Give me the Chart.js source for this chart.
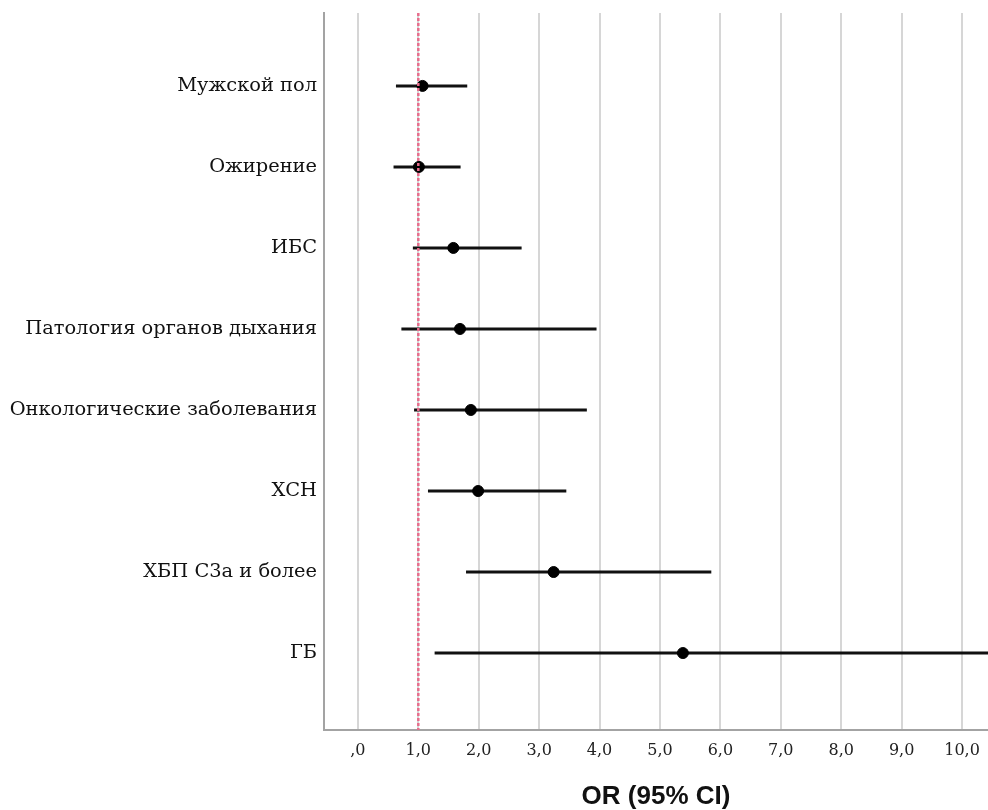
<!DOCTYPE html>
<html>
<head>
<meta charset="utf-8">
<script src="https://cdn.jsdelivr.net/npm/chart.js@4"></script>
<style>
    body { margin: 0; background: #fff; }
    #wrap { width: 988px; height: 810px; }
</style>
</head>
<body>
<div id="wrap"><canvas id="forest" width="988" height="810"></canvas></div>
<script>
// forest plot data (OR with 95% CI)
const categories = ['Мужской пол', 'Ожирение', 'ИБС', 'Патология органов дыхания',
    'Онкологические заболевания', 'ХСН', 'ХБП С3а и более', 'ГБ'];
const oddsRatio = [1.07, 1.01, 1.58, 1.69, 1.87, 1.99, 3.24, 5.38];
const ciLower = [0.63, 0.59, 0.91, 0.72, 0.93, 1.16, 1.79, 1.27];
const ciUpper = [1.81, 1.70, 2.71, 3.95, 3.79, 3.45, 5.85, 21.5];
const xTicks = [0, 1, 2, 3, 4, 5, 6, 7, 8, 9, 10];
const refValue = 1;

// build datasets from the arrays above
const points = categories.map((c, i) => ({ x: oddsRatio[i], y: i }));
const ciSegments = [];
categories.forEach((c, i) => {
    ciSegments.push({ x: ciLower[i], y: i });
    ciSegments.push({ x: ciUpper[i], y: i });
    ciSegments.push({ x: null, y: null }); // break between rows
});

const yMin = -0.9, yMax = 7.95;

const ctx = document.getElementById('forest').getContext('2d');
new Chart(ctx, {
    type: 'scatter',
    data: {
        datasets: [
            {
                // reference line OR = 1
                type: 'line',
                data: [{ x: refValue, y: yMin }, { x: refValue, y: yMax }],
                borderColor: 'rgb(233, 108, 140)',
                borderWidth: 2.5,
                borderDash: [3, 2],
                pointRadius: 0
            },
            {
                data: points,
                backgroundColor: '#000',
                borderColor: '#000',
                pointRadius: 5.5,
                pointHoverRadius: 5.5
            },
            {
                type: 'line',
                data: ciSegments,
                borderColor: '#111',
                borderWidth: 3,
                pointRadius: 0,
                spanGaps: false
            }
        ]
    },
    options: {
        responsive: false,
        animation: false,
        layout: { autoPadding: false, padding: { top: 13, right: 0, left: 0, bottom: 0 } },
        plugins: {
            legend: { display: false },
            tooltip: { enabled: false }
        },
        scales: {
            x: {
                type: 'linear',
                min: -0.561,
                max: 10.43,
                afterBuildTicks: s => { s.ticks = xTicks.map(v => ({ value: v })); },
                afterFit: s => {
                    s.height = 80;
                    s.paddingLeft = 0;
                    s.paddingRight = 0;
                },
                grid: { color: '#d6d6d6', lineWidth: 2, drawTicks: false },
                border: { display: true, color: '#a3a3a3', width: 2 },
                ticks: {
                    padding: 11,
                    color: '#222',
                    font: { family: 'DejaVu Serif', size: 16 },
                    callback: v => v === 0 ? ',0' : v.toFixed(1).replace('.', ',')
                },
                title: {
                    display: true,
                    text: 'OR (95% CI)',
                    color: '#111',
                    font: { family: 'Liberation Sans', size: 26, weight: 'bold', lineHeight: 1 },
                    padding: { top: 0, bottom: 0 }
                }
            },
            y: {
                type: 'linear',
                reverse: true,
                min: yMin,
                max: yMax,
                afterBuildTicks: s => { s.ticks = categories.map((c, i) => ({ value: i })); },
                afterFit: s => {
                    s.width = 324;
                    s.paddingTop = 0;
                    s.paddingBottom = 0;
                },
                grid: { display: false, drawTicks: false },
                border: { display: true, color: '#a3a3a3', width: 2 },
                ticks: {
                    padding: 7,
                    color: '#111',
                    font: { family: 'DejaVu Serif', size: 19.4 },
                    callback: v => categories[v] || ''
                }
            }
        }
    }
});
</script>
</body>
</html>
